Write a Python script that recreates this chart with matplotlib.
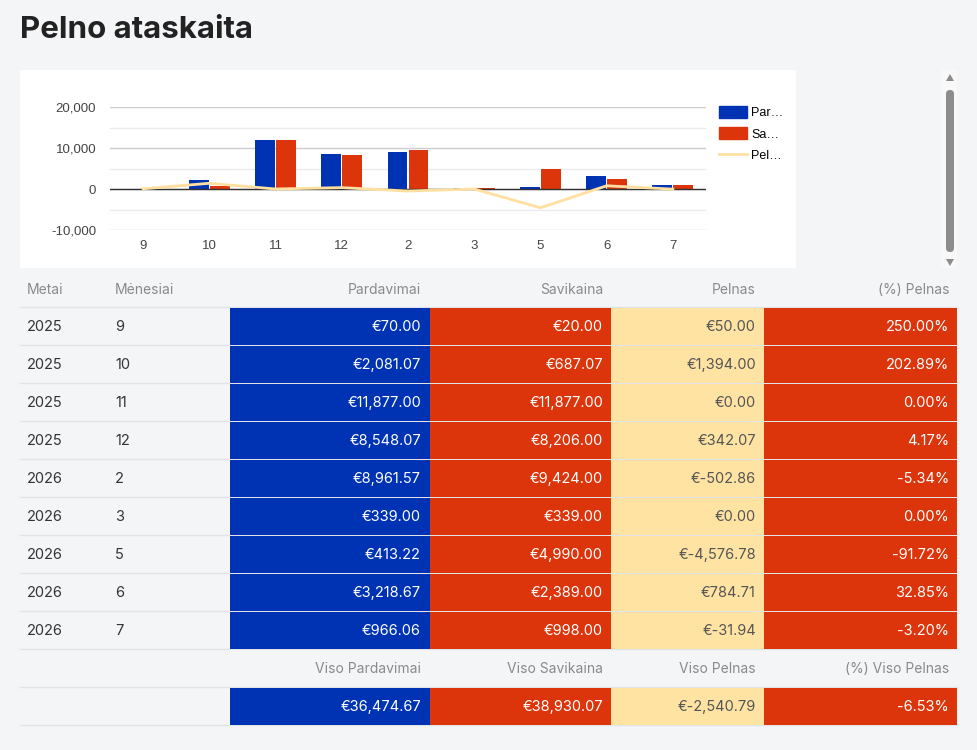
import matplotlib.pyplot as plt
import matplotlib.patches as mpatches
from matplotlib.ticker import FuncFormatter, MultipleLocator
import numpy as np

# data
years = ['2025', '2025', '2025', '2025', '2026', '2026', '2026', '2026', '2026']
months = ['9', '10', '11', '12', '2', '3', '5', '6', '7']
sales = [70.00, 2081.07, 11877.00, 8548.07, 8961.57, 339.00, 413.22, 3218.67, 966.06]
cost = [20.00, 687.07, 11877.00, 8206.00, 9424.00, 339.00, 4990.00, 2389.00, 998.00]
profit = [50.00, 1394.00, 0.00, 342.07, -502.86, 0.00, -4576.78, 784.71, -31.94]
profit_pct = [250.00, 202.89, 0.00, 4.17, -5.34, 0.00, -91.72, 32.85, -3.20]
total_sales = 36474.67
total_cost = 38930.07
total_profit = -2540.79
total_pct = -6.53

headers = ['Metai', 'Mėnesiai', 'Pardavimai', 'Savikaina', 'Pelnas', '(%) Pelnas']
total_headers = ['Viso Pardavimai', 'Viso Savikaina', 'Viso Pelnas', '(%) Viso Pelnas']
legend_labels = ['Par…', 'Sa…', 'Pel…']

BLUE = '#0033b3'
RED = '#dc350b'
YELLOW = '#ffe3a3'
BG = '#f4f5f7'
FONT = 'Inter'

W, H = 977, 750
fig = plt.figure(figsize=(W / 100, H / 100), dpi=100)
fig.patch.set_facecolor(BG)

# pixel-space axes for page
page = fig.add_axes([0, 0, 1, 1])
page.set_xlim(0, W)
page.set_ylim(H, 0)
page.axis('off')

page.text(20, 30, 'Pelno ataskaita', fontsize=22.5, fontweight='bold', color='#222222',
          family=FONT, va='center', ha='left')

# chart panel
page.add_patch(mpatches.Rectangle((20, 70), 776, 198, facecolor='white', edgecolor='none'))
# scrollbar
page.add_patch(mpatches.Rectangle((941, 70), 16, 198, facecolor='#f8f8f8', edgecolor='none'))
page.add_patch(mpatches.FancyBboxPatch((946, 90), 8, 162, boxstyle='round,pad=0,rounding_size=4',
                                       facecolor='#8c8c8c', edgecolor='none'))
page.add_patch(mpatches.Polygon([[946, 81], [954, 81], [950, 74]], facecolor='#8c8c8c', edgecolor='none'))
page.add_patch(mpatches.Polygon([[946, 259], [954, 259], [950, 266]], facecolor='#8c8c8c', edgecolor='none'))

# table
col_x = [27, 115]
col_right = [421, 603, 756, 949]
cell_edges = [230, 430, 611, 764, 957]
cell_colors = [BLUE, RED, YELLOW, RED]
text_colors = ['white', 'white', '#555555', 'white']
row_h = 38
top = 307

page.text(col_x[0], 290, headers[0], fontsize=10, color='#8a8a8a', family=FONT, va='center')
page.text(col_x[1], 290, headers[1], fontsize=10, color='#8a8a8a', family=FONT, va='center')
for j in range(4):
    page.text(col_right[j], 290, headers[j + 2], fontsize=10, color='#8a8a8a', family=FONT,
              va='center', ha='right')


def money(v):
    s = '{:,.2f}'.format(abs(v))
    return '€-' + s if v < 0 else '€' + s


for i in range(len(years)):
    y0 = top + i * row_h
    yc = y0 + row_h / 2 + 1
    vals = [money(sales[i]), money(cost[i]), money(profit[i]), '{:.2f}%'.format(profit_pct[i])]
    for j in range(4):
        page.add_patch(mpatches.Rectangle((cell_edges[j], y0 + 0.5), cell_edges[j + 1] - cell_edges[j],
                                          row_h - 1, facecolor=cell_colors[j], edgecolor='none'))
        page.text(col_right[j], yc, vals[j], fontsize=10.5, color=text_colors[j], family=FONT,
                  va='center', ha='right')
    page.text(col_x[0], yc, years[i], fontsize=10.5, color='#333333', family=FONT, va='center')
    page.text(col_x[1], yc, months[i], fontsize=10.5, color='#333333', family=FONT, va='center')

y_th = top + 9 * row_h
for j in range(4):
    page.text(col_right[j], y_th + row_h / 2 + 1, total_headers[j], fontsize=10, color='#8a8a8a',
              family=FONT, va='center', ha='right')
y_t = y_th + row_h
tvals = [money(total_sales), money(total_cost), money(total_profit), '{:.2f}%'.format(total_pct)]
for j in range(4):
    page.add_patch(mpatches.Rectangle((cell_edges[j], y_t + 0.5), cell_edges[j + 1] - cell_edges[j],
                                      row_h - 1, facecolor=cell_colors[j], edgecolor='none'))
    page.text(col_right[j], y_t + row_h / 2 + 1, tvals[j], fontsize=10.5, color=text_colors[j],
              family=FONT, va='center', ha='right')

for k in range(12):
    yy = top + k * row_h
    page.plot([20, 957], [yy, yy], color='#e2e4e8', lw=1, zorder=0.5)

# chart
ax = fig.add_axes([110 / W, 1 - 230 / H, 596 / W, 123 / H])
ax.set_facecolor('white')
x = np.arange(len(months))
bw = 0.3
ax.bar(x - bw / 2 - 0.008, sales, width=bw, color=BLUE, zorder=3)
ax.bar(x + bw / 2 + 0.008, cost, width=bw, color=RED, zorder=3)
ax.plot(x, profit, color='#ffe0a0', lw=2, zorder=4)
ax.set_xlim(-0.5, len(months) - 0.5)
ax.set_ylim(-10000, 20000)
ax.yaxis.set_major_locator(MultipleLocator(10000))
ax.yaxis.set_minor_locator(MultipleLocator(5000))
ax.grid(True, which='major', axis='y', color='#cccccc', lw=1, zorder=0)
ax.grid(True, which='minor', axis='y', color='#ebebeb', lw=1, zorder=0)
ax.axhline(0, color='#333333', lw=1, zorder=3.5)
for s in ax.spines.values():
    s.set_visible(False)
ax.set_xticks(x)
ax.set_xticklabels(months)
ax.yaxis.set_major_formatter(FuncFormatter(lambda v, p: '{:,.0f}'.format(v)))
ax.tick_params(which='both', length=0, labelsize=9.5, labelcolor='#444444')
for lab in ax.get_xticklabels() + ax.get_yticklabels():
    lab.set_family('Liberation Sans')
ax.tick_params(axis='x', pad=7)
ax.tick_params(axis='y', pad=10)

handles = [mpatches.Patch(color=BLUE), mpatches.Patch(color=RED),
           plt.Line2D([], [], color='#ffe0a0', lw=2)]
fig.legend(handles, legend_labels, loc='upper left', bbox_to_anchor=(719 / W, 1 - 106 / H),
           frameon=False, prop={'family': 'Liberation Sans', 'size': 9}, handlelength=2.2,
           handleheight=1.1, handletextpad=0.4, labelspacing=0.65, borderpad=0, borderaxespad=0)

fig.savefig('out.png', dpi=100, facecolor=BG)
